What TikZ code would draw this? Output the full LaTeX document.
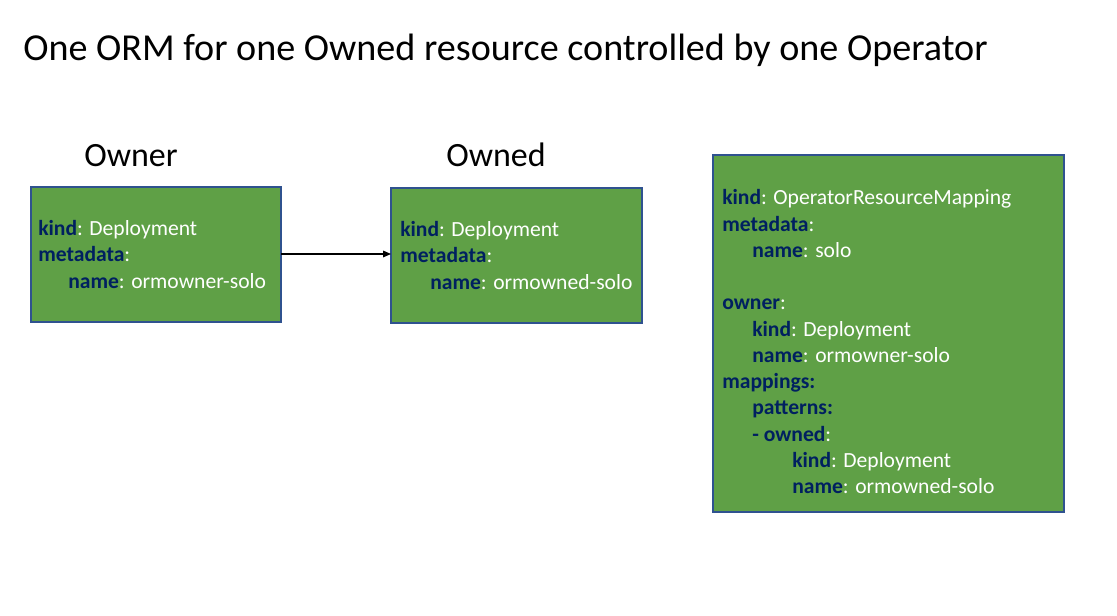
\documentclass[tikz,border=0pt]{standalone}
\usepackage{fontspec}
\setmainfont{Carlito}
\usetikzlibrary{arrows.meta}
\definecolor{boxgreen}{HTML}{5FA046}
\definecolor{boxedge}{HTML}{2F528F}
\definecolor{keyblue}{HTML}{002060}
\newcommand{\yk}[1]{\textcolor{keyblue}{\bfseries #1}}
\begin{document}
\begin{tikzpicture}[x=0.75pt,y=-0.75pt,
  yamlbox/.style={draw=boxedge,line width=0.8pt,fill=boxgreen},
  yline/.style={anchor=base west,inner sep=0pt,text=white,font=\fontsize{16.2}{19.5}\selectfont},
  heading/.style={anchor=base west,inner sep=0pt,font=\fontsize{25.5}{30}\selectfont},
  link/.style={-{Triangle[length=6pt,width=5pt]},line width=0.8pt}]
\useasboundingbox[fill=white] (0,0) rectangle (1117,616);
% title
\node[anchor=base west,inner sep=0pt,font=\fontsize{28.6}{34}\selectfont] (title) at (23,60.7) {One ORM for one Owned resource controlled by one Operator};
% headings
\node[heading] (hOwner) at (84,166.7) {Owner};
\node[heading] (hOwned) at (446,166.7) {Owned};
% boxes
\draw[yamlbox] (31,187) rectangle (281,322);
\coordinate (ownerR) at (281,254);
\draw[yamlbox] (391,188) rectangle (642,323);
\coordinate (ownedL) at (391,254);
\draw[yamlbox] (713,155) rectangle (1064,512);
% owner text
\node[yline] (a1) at (38,235.5) {\yk{kind}: Deployment};
\node[yline] (a2) at (38,262) {\yk{metadata}:};
\node[yline] (a3) at (68,288.5) {\yk{name}: ormowner-solo};
% owned text
\node[yline] (b1) at (400,236.5) {\yk{kind}: Deployment};
\node[yline] (b2) at (400,263) {\yk{metadata}:};
\node[yline] (b3) at (430,289.5) {\yk{name}: ormowned-solo};
% orm text
\node[yline] (c1) at (722,205) {\yk{kind}: OperatorResourceMapping};
\node[yline] (c2) at (722,231.2) {\yk{metadata}:};
\node[yline] (c3) at (752,257.4) {\yk{name}: solo};
\node[yline] (c4) at (722,310) {\yk{owner}:};
\node[yline] (c5) at (752,336.2) {\yk{kind}: Deployment};
\node[yline] (c6) at (752,362.4) {\yk{name}: ormowner-solo};
\node[yline] (c7) at (722,388.6) {\yk{mappings:}};
\node[yline] (c8) at (752,414.8) {\yk{patterns:}};
\node[yline] (c9) at (752,441) {\yk{- owned}:};
\node[yline] (c10) at (792,467.2) {\yk{kind}: Deployment};
\node[yline] (c11) at (792,493.4) {\yk{name}: ormowned-solo};
% connector
\draw[link] (ownerR) -- (ownedL);
\end{tikzpicture}
\end{document}
